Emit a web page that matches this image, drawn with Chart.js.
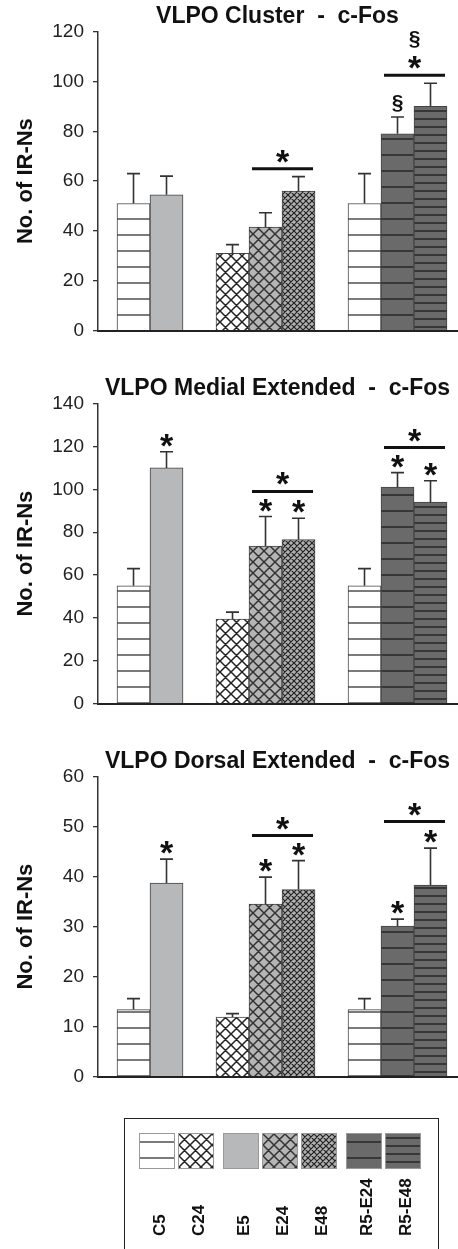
<!DOCTYPE html>
<html>
<head>
<meta charset="utf-8">
<script src="https://cdn.jsdelivr.net/npm/chart.js@4.4.1/dist/chart.umd.min.js"></script>
<style>
  body { margin: 0; background: #fff; width: 458px; height: 1249px; position: relative; overflow: hidden;
         font-family: "Liberation Sans", Arial, sans-serif; }
  .box { position: absolute; left: 0; width: 458px; }
  #legend { position: absolute; left: 124px; top: 1118px; width: 313px; height: 160px; border: 1px solid #222; }
  #legendRow { position: absolute; left: 14px; top: 14px; display: flex; gap: 11px; }
  .grp { display: flex; gap: 5px; }
  .item { position: relative; width: 34px; height: 120px; }
  .item canvas { display: block; border: 1px solid #999; box-sizing: border-box; }
  .lab { position: absolute; top: 17px; height: 86px; left: calc(50% + 4px);
         transform: translateX(-50%) rotate(180deg); writing-mode: vertical-rl;
         font-weight: bold; font-size: 17px; color: #111; white-space: nowrap; }
</style>
</head>
<body>
<div class="box" style="top:3px;height:348px"><canvas id="c1"></canvas></div>
<div class="box" style="top:375px;height:349px"><canvas id="c2"></canvas></div>
<div class="box" style="top:748px;height:349px"><canvas id="c3"></canvas></div>
<div id="legend"><div id="legendRow"></div></div>

<script>
// bar order inside each panel (a gap slot separates the groups)
const groups = [['C5', 'E5'], ['C24', 'E24', 'E48'], ['C5', 'R5-E24', 'R5-E48']];
const legendGroups = [['C5', 'C24'], ['E5', 'E24', 'E48'], ['R5-E24', 'R5-E48']];
const bracketSpans = [[3, 4], [6, 7]];   // bar indices joined by a bracket

// VLPO Cluster
const clusterMeans = [51, 54.5, 31, 41.5, 56, 51, 79, 90];
const clusterSem = [12, 7.5, 3.5, 5.8, 5.8, 12, 6.7, 9.3];
const clusterMarks = ['', '', '', '', '', '', '§', ''];
const clusterBracketLevels = [65, 102.5];
const clusterBracketMarks = [['*'], ['*', '§']];

// VLPO Medial Extended
const medialMeans = [55, 110, 39.5, 73.5, 76.5, 55, 101, 94];
const medialSem = [8, 7.5, 3.2, 13.8, 10, 8, 6.8, 10];
const medialMarks = ['', '*', '', '*', '*', '', '*', '*'];
const medialBracketLevels = [99, 119.5];
const medialBracketMarks = [['*'], ['*']];

// VLPO Dorsal Extended
const dorsalMeans = [13.4, 38.7, 11.9, 34.5, 37.4, 13.4, 30.1, 38.3];
const dorsalSem = [2.2, 4.8, 0.7, 5.4, 5.8, 2.2, 1.4, 7.4];
const dorsalMarks = ['', '*', '', '*', '*', '', '*', '*'];
const dorsalBracketLevels = [48.2, 51];
const dorsalBracketMarks = [['*'], ['*']];

Chart.defaults.font.family = '"Liberation Sans", Arial, sans-serif';
Chart.defaults.color = '#222';

// slot positions built from the group structure
const barLabels = [];
const barSlots = [];
let slot = 0;
groups.forEach(g => {
    g.forEach(lab => { barLabels.push(lab); barSlots.push(slot++); });
    slot++;
});

// fill patterns
function tile(size, bg, draw) {
    const c = document.createElement('canvas');
    c.width = size; c.height = size;
    const g = c.getContext('2d');
    g.fillStyle = bg;
    g.fillRect(0, 0, size, size);
    if (draw) draw(g, size);
    return g.createPattern(c, 'repeat');
}
function hLines(color, w) {
    return (g, s) => {
        g.strokeStyle = color; g.lineWidth = w;
        g.beginPath(); g.moveTo(0, s / 2); g.lineTo(s, s / 2); g.stroke();
    };
}
function cross(color, w) {
    return (g, s) => {
        g.strokeStyle = color; g.lineWidth = w;
        g.beginPath();
        for (const o of [-s, 0, s]) {
            g.moveTo(o, 0); g.lineTo(o + s, s);
            g.moveTo(o + s, 0); g.lineTo(o, s);
        }
        g.stroke();
    };
}
const fills = {
    'C5': tile(16, '#ffffff', hLines('#333', 1.3)),
    'C24': tile(11, '#ffffff', cross('#222', 1.5)),
    'E5': '#b7b8ba',
    'E24': tile(11, '#b5b5b5', cross('#333', 1.5)),
    'E48': tile(6, '#b0b0b0', cross('#222', 1.2)),
    'R5-E24': tile(16, '#6a6a6a', hLines('#222', 1.4)),
    'R5-E48': tile(8, '#6a6a6a', hLines('#222', 1.4))
};

function drawMark(ctx, text, cx, bottom) {
    ctx.font = text === '*' ? 'bold 34px "Liberation Sans"' : 'bold 21px "Liberation Sans"';
    const m = ctx.measureText(text);
    const base = bottom - m.actualBoundingBoxDescent;
    ctx.fillText(text, cx, base);
    return base - m.actualBoundingBoxAscent;
}

function makeExtras(means, sem, marks, levels, bracketMarks) {
    return {
        id: 'extras',
        afterDatasetsDraw(chart) {
            const ctx = chart.ctx;
            const y = chart.scales.y;
            const bars = chart.getDatasetMeta(0).data;
            ctx.save();
            ctx.fillStyle = '#111';
            ctx.textAlign = 'center';
            ctx.textBaseline = 'alphabetic';
            means.forEach((m, i) => {
                const cx = bars[i].x;
                const top = y.getPixelForValue(m + sem[i]);
                ctx.strokeStyle = '#333';
                ctx.lineWidth = 1.6;
                ctx.beginPath();
                ctx.moveTo(cx, bars[i].y);
                ctx.lineTo(cx, top);
                ctx.moveTo(cx - 6.5, top);
                ctx.lineTo(cx + 6.5, top);
                ctx.stroke();
                if (marks[i]) drawMark(ctx, marks[i], cx, top - 5);
            });
            bracketSpans.forEach(([a, b], k) => {
                const ly = y.getPixelForValue(levels[k]);
                const x0 = bars[a].x - 13.5, x1 = bars[b].x + 14.5;
                ctx.strokeStyle = '#111';
                ctx.lineWidth = 3;
                ctx.beginPath();
                ctx.moveTo(x0, ly);
                ctx.lineTo(x1, ly);
                ctx.stroke();
                let bottom = ly - 6;
                bracketMarks[k].forEach(t => {
                    bottom = drawMark(ctx, t, (x0 + x1) / 2, bottom) - 8;
                });
            });
            ctx.restore();
        }
    };
}

function makeChart(id, title, means, sem, marks, levels, bracketMarks, yMax, yStep) {
    return new Chart(document.getElementById(id), {
        type: 'bar',
        data: {
            labels: barLabels,
            datasets: [{
                data: means.map((v, i) => ({ x: barSlots[i], y: v })),
                backgroundColor: barLabels.map(l => fills[l]),
                borderColor: '#444',
                borderWidth: 1,
                barThickness: 33
            }]
        },
        options: {
            responsive: true,
            maintainAspectRatio: false,
            animation: false,
            layout: { padding: { left: 0, right: 1, top: 0, bottom: 12 } },
            plugins: {
                legend: { display: false },
                tooltip: { enabled: false },
                title: {
                    display: true,
                    text: title,
                    fullSize: false,
                    color: '#111',
                    font: { size: 23, weight: 'bold' },
                    padding: { top: 0, bottom: 1 }
                }
            },
            scales: {
                x: {
                    type: 'linear',
                    offset: false,
                    min: -1.076,
                    max: 9.803,
                    ticks: { display: false },
                    grid: { display: false, drawTicks: false },
                    border: { display: true, color: '#222', width: 2 }
                },
                y: {
                    min: 0,
                    max: yMax,
                    afterFit(scale) { scale.width = 98; },
                    ticks: { stepSize: yStep, padding: 9, color: '#222', font: { size: 19 } },
                    grid: { display: true, drawOnChartArea: false, drawTicks: true, tickLength: 5,
                            color: '#333', lineWidth: 1.3 },
                    border: { display: true, color: '#333', width: 1.5 },
                    title: {
                        display: true,
                        text: 'No. of IR-Ns',
                        color: '#111',
                        font: { size: 22, weight: 'bold' },
                        padding: { top: 13, bottom: 0 }
                    }
                }
            }
        },
        plugins: [makeExtras(means, sem, marks, levels, bracketMarks)]
    });
}

makeChart('c1', 'VLPO Cluster  -  c-Fos', clusterMeans, clusterSem, clusterMarks,
    clusterBracketLevels, clusterBracketMarks, 120, 20);
makeChart('c2', 'VLPO Medial Extended  -  c-Fos', medialMeans, medialSem, medialMarks,
    medialBracketLevels, medialBracketMarks, 140, 20);
makeChart('c3', 'VLPO Dorsal Extended  -  c-Fos', dorsalMeans, dorsalSem, dorsalMarks,
    dorsalBracketLevels, dorsalBracketMarks, 60, 10);

// shared legend box
const row = document.getElementById('legendRow');
legendGroups.forEach(g => {
    const grp = document.createElement('div');
    grp.className = 'grp';
    g.forEach(lab => {
        const item = document.createElement('div');
        item.className = 'item';
        const sw = document.createElement('canvas');
        sw.width = 34; sw.height = 34;
        const sctx = sw.getContext('2d');
        sctx.fillStyle = fills[lab];
        sctx.fillRect(0, 0, 34, 34);
        const t = document.createElement('div');
        t.className = 'lab';
        t.textContent = lab;
        item.appendChild(sw);
        item.appendChild(t);
        grp.appendChild(item);
    });
    row.appendChild(grp);
});
</script>
</body>
</html>
